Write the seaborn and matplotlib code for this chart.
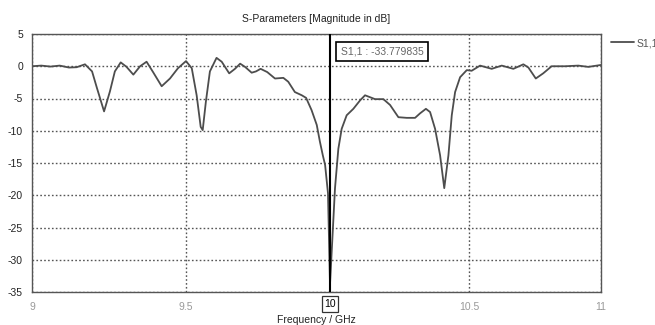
import numpy as np
import pandas as pd
import matplotlib
matplotlib.use("Agg")
import matplotlib.pyplot as plt
import seaborn as sns

# ---- data ----
freq_ghz = [9.000, 9.030, 9.060, 9.090, 9.120, 9.145, 9.172, 9.195, 9.211, 9.234,
            9.253, 9.269, 9.288, 9.307, 9.329, 9.351, 9.372, 9.393, 9.421, 9.448,
            9.474, 9.500, 9.520, 9.537, 9.551, 9.558, 9.569, 9.583, 9.606, 9.624,
            9.650, 9.670, 9.688, 9.705, 9.728, 9.743, 9.759, 9.782, 9.809, 9.838,
            9.855, 9.878, 9.902, 9.917, 9.936, 9.954, 9.965, 9.975, 9.983, 9.993,
            10.000, 10.018, 10.030, 10.042, 10.060, 10.084, 10.108, 10.126, 10.144, 10.162,
            10.192, 10.216, 10.246, 10.276, 10.306, 10.324, 10.345, 10.360, 10.378, 10.396,
            10.411, 10.426, 10.438, 10.450, 10.468, 10.492, 10.510, 10.542, 10.586, 10.624,
            10.668, 10.706, 10.725, 10.753, 10.781, 10.813, 10.864, 10.914, 10.952, 11.000]
s11_db = [0.0, 0.1, -0.05, 0.1, -0.2, -0.15, 0.3, -0.8, -3.4, -7.0,
          -3.9, -0.8, 0.6, -0.1, -1.3, 0.0, 0.7, -0.9, -3.1, -1.9,
          -0.3, 0.8, -0.3, -4.5, -9.4, -9.9, -5.5, -0.8, 1.3, 0.7,
          -1.1, -0.4, 0.4, -0.1, -1.0, -0.8, -0.4, -0.9, -1.9, -1.8,
          -2.4, -4.0, -4.5, -4.9, -6.8, -9.1, -11.7, -13.8, -15.3, -19.7,
          -33.78, -18.9, -12.8, -9.7, -7.6, -6.6, -5.3, -4.5, -4.8, -5.1,
          -5.1, -6.0, -7.9, -8.0, -8.0, -7.3, -6.6, -7.1, -9.7, -13.8,
          -18.9, -13.8, -7.6, -4.0, -1.7, -0.6, -0.7, 0.1, -0.4, 0.1,
          -0.4, 0.3, -0.2, -1.9, -1.1, 0.0, 0.0, 0.1, -0.1, 0.2]
x_ticks = [9, 9.5, 10.5, 11]
x_tick_labels = ["9", "9.5", "10.5", "11"]
y_ticks = [5, 0, -5, -10, -15, -20, -25, -30, -35]
marker_freq = 10.0
marker_value = -33.779835
series_name = "S1,1"

df = pd.DataFrame({"Frequency / GHz": freq_ghz, series_name: s11_db})

# ---- style ----
sns.set_style("white")
plt.rcParams["font.family"] = ["Liberation Sans Narrow", "Liberation Sans", "DejaVu Sans"]
plt.rcParams["font.size"] = 7.5
plt.rcParams["axes.unicode_minus"] = False

fig = plt.figure(figsize=(6.55, 3.25), dpi=100)
ax = fig.add_axes([32 / 655, 1 - 292 / 325, (601 - 32) / 655, (292 - 34) / 325])

# the reference's frequency axis is slightly non-uniform; reproduce with a function scale
KX = np.array([9.0, 9.5, 10.0, 10.5, 11.0])
KP = np.array([0.0, 154.0, 298.0, 437.0, 569.0])

def fwd(x):
    x = np.asarray(x, dtype=float)
    y = np.interp(x, KX, KP)
    y = np.where(x < KX[0], KP[0] + (x - KX[0]) * 308.0, y)
    y = np.where(x > KX[-1], KP[-1] + (x - KX[-1]) * 264.0, y)
    return y

def inv(p):
    p = np.asarray(p, dtype=float)
    x = np.interp(p, KP, KX)
    x = np.where(p < KP[0], KX[0] + (p - KP[0]) / 308.0, x)
    x = np.where(p > KP[-1], KX[-1] + (p - KP[-1]) / 264.0, x)
    return x

ax.set_xscale("function", functions=(fwd, inv))

sns.lineplot(data=df, x="Frequency / GHz", y=series_name, color="#4d4d4d",
             linewidth=1.3, ax=ax, label=series_name, legend=False)

ax.set_xlim(9, 11)
ax.set_ylim(-35, 5)
ax.set_xticks(x_ticks)
ax.set_xticklabels(x_tick_labels)
ax.xaxis.set_minor_locator(matplotlib.ticker.NullLocator())
ax.set_yticks(y_ticks)

ax.grid(True, which="major", linestyle=(0, (1.2, 1.6)), color="#555555", linewidth=1.0)
for s in ax.spines.values():
    s.set_color("#555555")
    s.set_linewidth(1.0)

ax.tick_params(axis="y", direction="inout", length=5, width=0.8, color="#555555",
               labelcolor="#222222", pad=4, labelsize=7.5)
ax.tick_params(axis="x", direction="inout", length=5, width=0.8, color="#555555",
               labelcolor="#999999", pad=4.5, labelsize=7.5)

ax.set_ylabel("")
ax.set_xlabel("Frequency / GHz", color="#222222", fontsize=7.5)
ax.xaxis.set_label_coords(0.5, -0.09)
ax.set_title("S-Parameters [Magnitude in dB]", color="#222222", fontsize=7.5, pad=9)

# marker
ax.axvline(marker_freq, color="black", linewidth=1.5, zorder=3)
ax.text(marker_freq, -0.027, "10", transform=ax.get_xaxis_transform(), ha="center", va="top",
        color="black", fontsize=7.5,
        bbox=dict(boxstyle="square,pad=0.25", fc="white", ec="#333333", lw=0.9))
fig.text(341 / 655, 1 - 51.5 / 325, f"{series_name} : {marker_value:.6f}", ha="left", va="center",
         color="#666666", fontsize=7.5,
         bbox=dict(boxstyle="square,pad=0.45", fc="white", ec="black", lw=1.2))

# legend outside on the right
fig.legend(handles=ax.get_lines()[:1], labels=[series_name], loc="center left",
           bbox_to_anchor=(611 / 655, 1 - 43 / 325), frameon=False, borderaxespad=0,
           borderpad=0, handlelength=2.2, handletextpad=0.3, fontsize=7.5,
           labelcolor="#555555")

fig.savefig("out.png", dpi=100)
